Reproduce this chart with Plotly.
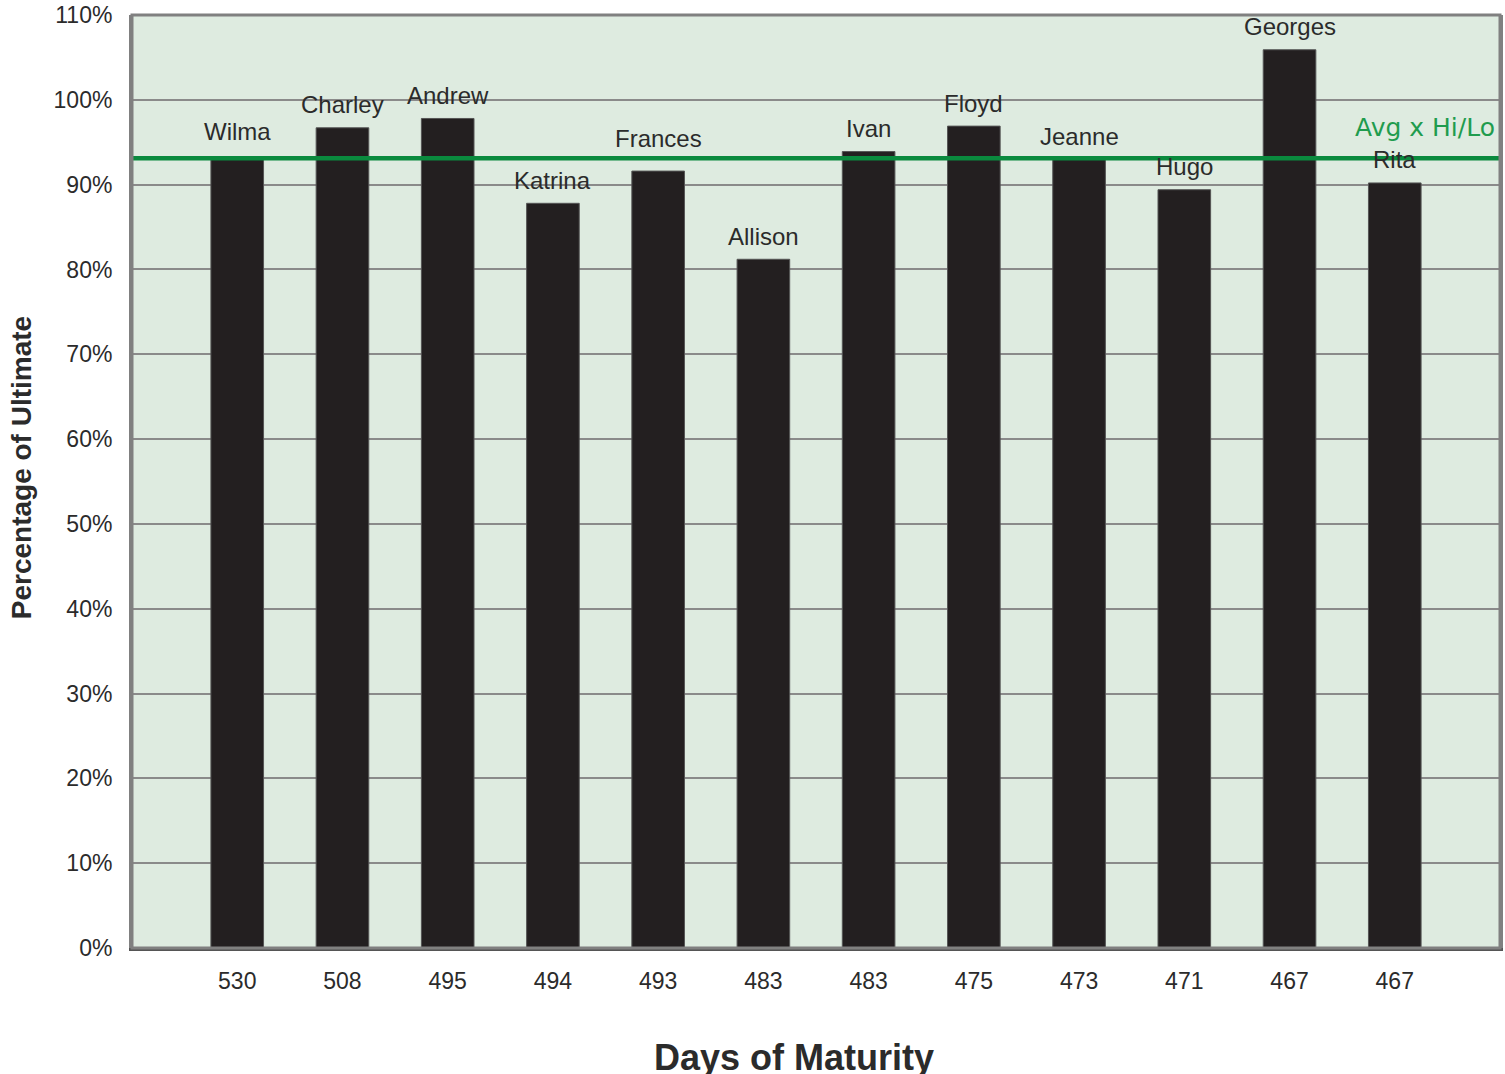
import plotly.graph_objects as go

# ---- data ----
storm_names = ["Wilma", "Charley", "Andrew", "Katrina", "Frances", "Allison",
               "Ivan", "Floyd", "Jeanne", "Hugo", "Georges", "Rita"]
days_of_maturity = ["530", "508", "495", "494", "493", "483",
                    "483", "475", "473", "471", "467", "467"]
pct_of_ultimate = [93.2, 96.7, 97.8, 87.8, 91.6, 81.2,
                   93.9, 96.9, 93.0, 89.4, 105.9, 90.2]
avg_hi_lo = 93.1
avg_label = "Avg x Hi/Lo"
y_ticks = [0, 10, 20, 30, 40, 50, 60, 70, 80, 90, 100, 110]
y_tick_labels = [f"{v}%" for v in y_ticks]

# ---- style ----
LABEL_SHIFT = 23
LABEL_SHIFT_OVERRIDE = {"Frances": 33, "Wilma": 26}

x_pos = list(range(len(storm_names)))

BG = "#DEEBE0"
BAR = "#231F20"
GREEN_LINE = "#0A8A3E"
GREEN_TEXT = "#1F9C4E"
GRID = "#8A8A8A"
TXT = "#2B2B2B"

fig = go.Figure()

fig.add_trace(go.Bar(
    x=x_pos, y=pct_of_ultimate, width=0.5,
    marker=dict(color=BAR, line=dict(color="#555555", width=1)),
    showlegend=False, hoverinfo="skip",
))

# average line across the whole plot
fig.add_trace(go.Scatter(
    x=[-1, 12], y=[avg_hi_lo, avg_hi_lo], mode="lines",
    line=dict(color=GREEN_LINE, width=4.5),
    showlegend=False, hoverinfo="skip",
))

annotations = []
for xi, name, val in zip(x_pos, storm_names, pct_of_ultimate):
    annotations.append(dict(
        x=xi, y=val, xref="x", yref="y", text=name, showarrow=False,
        yanchor="middle", xanchor="center",
        yshift=LABEL_SHIFT_OVERRIDE.get(name, LABEL_SHIFT),
        font=dict(family="Liberation Sans, Arial", size=24, color=TXT),
    ))

annotations.append(dict(
    x=0.998, y=avg_hi_lo, xref="paper", yref="y", text=avg_label,
    showarrow=False, xanchor="right", yanchor="middle", yshift=31,
    font=dict(family="DejaVu Sans, Verdana", size=25, color=GREEN_TEXT),
))

annotations.append(dict(
    x=0.4836, y=-0.1176, xref="paper", yref="paper", text="<b>Days of Maturity</b>",
    showarrow=False, xanchor="center", yanchor="middle",
    font=dict(family="Liberation Sans, Arial", size=36, color=TXT),
))

annotations.append(dict(
    x=-0.081, y=0.5144, xref="paper", yref="paper", text="<b>Percentage of Ultimate</b>",
    showarrow=False, xanchor="center", yanchor="middle", textangle=-90,
    font=dict(family="Liberation Sans, Arial", size=28, color=TXT),
))

fig.update_layout(
    width=1505, height=1074,
    margin=dict(l=132, r=2, t=13, b=126),
    paper_bgcolor="white", plot_bgcolor=BG,
    annotations=annotations,
    bargap=0.5,
)

fig.update_xaxes(
    range=[-1, 12], tickmode="array", tickvals=x_pos, ticktext=days_of_maturity,
    showgrid=False, zeroline=False,
    showline=True, linecolor="#555555", linewidth=3, mirror=False,
    ticks="outside", ticklen=10, tickcolor="rgba(0,0,0,0)",
    tickfont=dict(family="Liberation Sans, Arial", size=23, color=TXT),
)

fig.update_yaxes(
    range=[0, 110], tickmode="array", tickvals=y_ticks, ticktext=y_tick_labels,
    showgrid=True, gridcolor=GRID, gridwidth=2, zeroline=False,
    showline=True, linecolor="#808080", linewidth=3, mirror=True,
    ticks="outside", ticklen=12, tickcolor="rgba(0,0,0,0)",
    tickfont=dict(family="Liberation Sans, Arial", size=23, color=TXT),
)

# right/top border
fig.add_shape(type="rect", xref="paper", yref="paper", x0=0, y0=0, x1=1, y1=1,
              line=dict(color="#808080", width=3), layer="above")

fig.write_html(
    "out.html",
    config={"displayModeBar": False},
    post_script="document.body.style.margin='0';document.body.style.overflow='hidden';",
)
